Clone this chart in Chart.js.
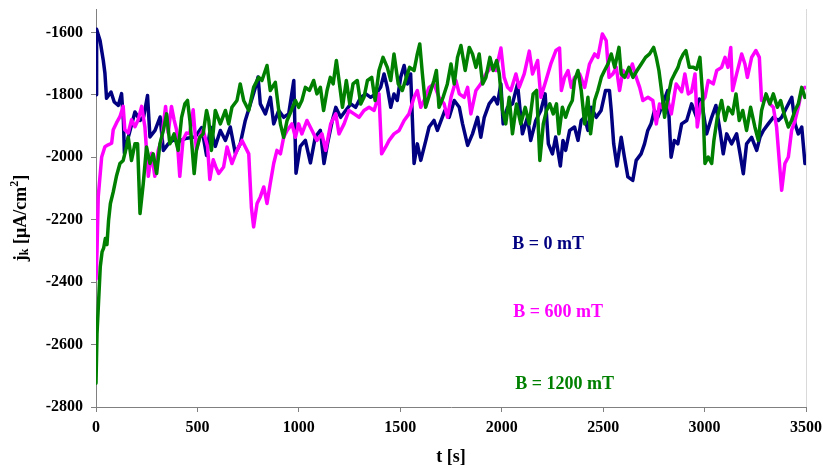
<!DOCTYPE html>
<html lang="en">
<head>
    <meta charset="UTF-8">
    <title>j_k vs t</title>
    <script src="https://cdn.jsdelivr.net/npm/chart.js"></script>
    <style>
        body { margin: 0; background: #fff; }
        canvas { display: block; }
    </style>
</head>
<body>
    <canvas id="chart" width="823" height="468"></canvas>

    <script>
        // axis ticks
        const xTicks = [0, 500, 1000, 1500, 2000, 2500, 3000, 3500];
        const yTicks = [-2800, -2600, -2400, -2200, -2000, -1800, -1600];

        // series names and colours
        const seriesNames = ['B = 0 mT', 'B = 600 mT', 'B = 1200 mT'];
        const seriesColors = ['#000080', '#ff00ff', '#008000'];

        // [t (s), j_k (µA/cm2)]
        const b0 = [[0,-1800],[3,-1590],[10,-1605],[20,-1626],[36,-1690],[44,-1731],[52,-1811],[74,-1791],[90,-1823],[110,-1834],[126,-1796],[135,-1882],[140,-1987],[159,-1936],[192,-1855],[217,-1882],[235,-1870],[254,-1802],[266,-1935],[291,-1914],[316,-1871],[332,-1978],[356,-1957],[381,-1944],[405,-1950],[440,-1940],[488,-1935],[521,-1905],[545,-1994],[564,-1903],[588,-1965],[613,-1914],[638,-1946],[662,-1903],[687,-1988],[711,-1957],[736,-1882],[761,-1829],[786,-1776],[799,-1743],[810,-1829],[835,-1861],[860,-1808],[876,-1893],[901,-1850],[925,-1872],[950,-1861],[975,-1754],[986,-2051],[1007,-1965],[1032,-1946],[1057,-2018],[1081,-1935],[1106,-1914],[1124,-2020],[1141,-1957],[1165,-1882],[1182,-1840],[1206,-1872],[1231,-1850],[1256,-1829],[1280,-1840],[1305,-1808],[1330,-1797],[1354,-1808],[1380,-1797],[1403,-1776],[1420,-1733],[1436,-1776],[1453,-1840],[1469,-1797],[1485,-1818],[1502,-1744],[1519,-1706],[1535,-1765],[1551,-1733],[1568,-2020],[1584,-1957],[1601,-2010],[1626,-1946],[1642,-1903],[1666,-1882],[1683,-1914],[1707,-1872],[1720,-1850],[1741,-1872],[1766,-1818],[1791,-1840],[1807,-1893],[1832,-1962],[1856,-1925],[1881,-1872],[1897,-1936],[1914,-1872],[1938,-1829],[1963,-1808],[1979,-1829],[1996,-1765],[2007,-1893],[2028,-1840],[2053,-1829],[2078,-1765],[2102,-1925],[2127,-1872],[2143,-1946],[2168,-1882],[2193,-1850],[2214,-1797],[2230,-1957],[2250,-1989],[2266,-1935],[2289,-2028],[2302,-1946],[2315,-1978],[2335,-1914],[2359,-1903],[2376,-1946],[2392,-1882],[2408,-1872],[2425,-1914],[2441,-1840],[2466,-1872],[2490,-1850],[2512,-1786],[2531,-1786],[2540,-1850],[2552,-1957],[2568,-2028],[2589,-1936],[2605,-2000],[2622,-2063],[2646,-2074],[2663,-2010],[2687,-1989],[2704,-1957],[2720,-1914],[2736,-1893],[2753,-1850],[2769,-1872],[2794,-1829],[2818,-1786],[2835,-2000],[2851,-1946],[2868,-1957],[2887,-1893],[2912,-1882],[2936,-1829],[2961,-1872],[2974,-1813],[2990,-1840],[3010,-1925],[3035,-1872],[3056,-1834],[3076,-1914],[3092,-1989],[3109,-1925],[3133,-1957],[3158,-1925],[3175,-1989],[3191,-2053],[3207,-1957],[3232,-1936],[3257,-1978],[3273,-1936],[3290,-1914],[3314,-1893],[3339,-1872],[3364,-1882],[3380,-1872],[3405,-1840],[3430,-1808],[3446,-1893],[3462,-1925],[3479,-1903],[3495,-2020]];

        const b600 = [[0,-2390],[5,-2300],[11,-2127],[28,-1999],[44,-1966],[60,-1960],[77,-1955],[85,-1912],[101,-1890],[118,-1870],[134,-1837],[142,-1912],[159,-1922],[175,-1880],[192,-1902],[208,-1880],[225,-1837],[241,-1902],[258,-2061],[274,-1987],[290,-2061],[307,-1977],[323,-1944],[343,-1837],[356,-1922],[372,-1837],[385,-1880],[397,-1912],[413,-2061],[429,-1944],[446,-1922],[462,-1925],[479,-1848],[495,-1977],[512,-1930],[528,-1912],[550,-1966],[561,-2071],[578,-2008],[590,-2030],[605,-2052],[629,-2031],[646,-1967],[670,-2020],[695,-1978],[720,-1946],[736,-1967],[753,-1989],[766,-2160],[777,-2223],[794,-2148],[810,-2127],[827,-2095],[843,-2148],[859,-2084],[876,-2020],[892,-1978],[909,-1989],[925,-1936],[942,-1914],[966,-1893],[983,-1936],[999,-1893],[1015,-1925],[1040,-1882],[1065,-1914],[1089,-1946],[1114,-1925],[1132,-1978],[1157,-1893],[1182,-1861],[1198,-1925],[1223,-1893],[1247,-1850],[1272,-1861],[1297,-1872],[1321,-1850],[1346,-1840],[1371,-1850],[1395,-1797],[1408,-1989],[1428,-1967],[1445,-1946],[1469,-1925],[1494,-1914],[1519,-1882],[1543,-1861],[1568,-1808],[1584,-1786],[1601,-1840],[1617,-1818],[1642,-1776],[1666,-1765],[1691,-1808],[1716,-1829],[1733,-1872],[1750,-1808],[1774,-1754],[1791,-1797],[1815,-1808],[1832,-1776],[1848,-1861],[1873,-1786],[1897,-1765],[1922,-1733],[1947,-1712],[1971,-1722],[1996,-1650],[2012,-1744],[2029,-1776],[2045,-1786],[2070,-1733],[2086,-1776],[2111,-1733],[2136,-1660],[2152,-1733],[2177,-1690],[2193,-1808],[2218,-1754],[2242,-1701],[2267,-1658],[2285,-1650],[2294,-1786],[2310,-1744],[2327,-1722],[2343,-1776],[2359,-1744],[2384,-1733],[2409,-1776],[2433,-1701],[2458,-1669],[2474,-1680],[2496,-1605],[2515,-1626],[2529,-1744],[2548,-1733],[2565,-1712],[2581,-1786],[2598,-1722],[2622,-1744],[2644,-1701],[2663,-1744],[2680,-1776],[2696,-1818],[2721,-1808],[2745,-1818],[2762,-1893],[2778,-1829],[2803,-1850],[2819,-1818],[2836,-1861],[2860,-1765],[2887,-1790],[2903,-1733],[2920,-1797],[2936,-1790],[2953,-1733],[2964,-1903],[2981,-1829],[3002,-1808],[3018,-1754],[3043,-1765],[3060,-1722],[3084,-1712],[3101,-1680],[3115,-1712],[3129,-1648],[3138,-1786],[3158,-1733],[3183,-1669],[3199,-1701],[3211,-1744],[3232,-1680],[3253,-1658],[3270,-1680],[3281,-1818],[3306,-1808],[3322,-1829],[3339,-1840],[3355,-1903],[3372,-2042],[3380,-2106],[3396,-2020],[3413,-1999],[3429,-1914],[3446,-1882],[3462,-1840],[3479,-1786],[3495,-1776]];

        const b1200 = [[0,-2724],[5,-2564],[13,-2458],[21,-2351],[30,-2303],[38,-2290],[46,-2260],[54,-2280],[62,-2202],[71,-2148],[85,-2111],[101,-2060],[118,-2020],[134,-2010],[151,-1965],[159,-1936],[175,-2010],[192,-1957],[205,-1957],[217,-2180],[233,-2084],[249,-1967],[266,-2020],[282,-1989],[299,-2052],[315,-1957],[332,-1914],[348,-1861],[364,-1957],[385,-1925],[405,-1978],[422,-1872],[438,-1829],[451,-1818],[463,-1882],[484,-2052],[495,-1978],[512,-1936],[528,-1925],[545,-1850],[556,-1882],[569,-1978],[588,-1850],[613,-1893],[638,-1850],[654,-1893],[670,-1840],[695,-1818],[711,-1765],[728,-1818],[753,-1850],[777,-1776],[802,-1744],[818,-1754],[843,-1706],[859,-1786],[884,-1760],[909,-1893],[925,-1936],[942,-1882],[963,-1850],[983,-1818],[999,-1840],[1015,-1818],[1032,-1776],[1052,-1786],[1073,-1754],[1089,-1797],[1106,-1776],[1122,-1850],[1139,-1786],[1155,-1744],[1169,-1765],[1185,-1690],[1198,-1754],[1215,-1840],[1234,-1754],[1251,-1829],[1267,-1765],[1288,-1754],[1305,-1829],[1321,-1808],[1338,-1754],[1359,-1744],[1376,-1818],[1395,-1722],[1415,-1680],[1436,-1712],[1453,-1754],[1469,-1669],[1490,-1765],[1510,-1786],[1530,-1744],[1546,-1712],[1568,-1722],[1584,-1669],[1596,-1637],[1609,-1733],[1625,-1840],[1645,-1797],[1666,-1754],[1678,-1722],[1691,-1840],[1711,-1808],[1732,-1765],[1750,-1701],[1766,-1765],[1782,-1680],[1799,-1642],[1820,-1722],[1840,-1648],[1856,-1669],[1873,-1712],[1889,-1669],[1906,-1765],[1922,-1744],[1942,-1680],[1958,-1722],[1975,-1690],[1988,-1733],[2004,-1850],[2020,-1893],[2037,-1808],[2053,-1925],[2073,-1829],[2094,-1893],[2116,-1840],[2136,-1893],[2155,-1797],[2172,-1786],[2188,-2010],[2205,-1893],[2221,-1850],[2237,-1829],[2254,-1861],[2270,-1829],[2282,-1925],[2299,-1840],[2315,-1872],[2331,-1840],[2348,-1818],[2359,-1754],[2376,-1722],[2392,-1786],[2409,-1893],[2425,-1808],[2438,-1925],[2458,-1818],[2474,-1786],[2491,-1744],[2507,-1722],[2524,-1701],[2540,-1669],[2557,-1712],[2578,-1648],[2589,-1733],[2606,-1744],[2627,-1712],[2647,-1744],[2667,-1722],[2688,-1701],[2709,-1680],[2729,-1669],[2749,-1648],[2762,-1680],[2775,-1722],[2792,-1808],[2803,-1872],[2819,-1808],[2836,-1754],[2852,-1733],[2869,-1712],[2879,-1690],[2895,-1669],[2908,-1658],[2925,-1712],[2945,-1712],[2961,-1718],[2977,-1680],[2990,-1797],[3002,-2020],[3018,-1999],[3035,-2020],[3046,-1946],[3063,-1872],[3084,-1818],[3101,-1882],[3117,-1840],[3138,-1861],[3155,-1797],[3171,-1882],[3188,-1850],[3207,-1914],[3227,-1840],[3248,-1903],[3265,-1946],[3281,-1850],[3303,-1797],[3322,-1829],[3339,-1797],[3359,-1840],[3375,-1818],[3392,-1861],[3413,-1903],[3429,-1882],[3446,-1850],[3462,-1829],[3479,-1776],[3495,-1808]];

        // where the series names sit, in data units [t, j]
        const labelAnchors = [[2052, -2278], [2057, -2498], [2067, -2728]];

        const FONT = '"Liberation Serif", "Times New Roman", serif';
        const AXIS_GREY = '#808080';

        function toXY(arr) {
            return arr.map(p => ({ x: p[0], y: p[1] }));
        }

        // titles, series names and right frame line
        const decorPlugin = {
            id: 'decor',
            afterDraw(chart) {
                const ctx = chart.ctx;
                const area = chart.chartArea;
                const xs = chart.scales.x;
                const ys = chart.scales.y;

                // light frame line on the right
                ctx.save();
                ctx.strokeStyle = '#d9d9d9';
                ctx.lineWidth = 1;
                ctx.beginPath();
                ctx.moveTo(Math.round(area.right) + 0.5, area.top);
                ctx.lineTo(Math.round(area.right) + 0.5, area.bottom);
                ctx.stroke();
                ctx.restore();

                // series labels
                ctx.save();
                ctx.font = 'bold 18px ' + FONT;
                ctx.textAlign = 'left';
                ctx.textBaseline = 'middle';
                labelAnchors.forEach((a, i) => {
                    ctx.fillStyle = seriesColors[i];
                    ctx.fillText(seriesNames[i], xs.getPixelForValue(a[0]), ys.getPixelForValue(a[1]));
                });
                ctx.restore();

                // x title
                ctx.save();
                ctx.font = 'bold 18px ' + FONT;
                ctx.fillStyle = '#000';
                ctx.textAlign = 'center';
                ctx.textBaseline = 'middle';
                ctx.fillText('t [s]', (area.left + area.right) / 2, 457);
                ctx.restore();

                // y title with subscript and superscript
                const parts = [
                    { t: 'j', size: 18, dy: 0 },
                    { t: 'k', size: 12, dy: 4 },
                    { t: ' [μA/cm', size: 18, dy: 0 },
                    { t: '2', size: 12, dy: -6 },
                    { t: ']', size: 18, dy: 0 }
                ];
                ctx.save();
                ctx.translate(21, 218);
                ctx.rotate(-Math.PI / 2);
                ctx.fillStyle = '#000';
                ctx.textBaseline = 'middle';
                ctx.textAlign = 'left';
                let total = 0;
                parts.forEach(p => {
                    ctx.font = 'bold ' + p.size + 'px ' + FONT;
                    p.w = ctx.measureText(p.t).width;
                    total += p.w;
                });
                let x = -total / 2;
                parts.forEach(p => {
                    ctx.font = 'bold ' + p.size + 'px ' + FONT;
                    ctx.fillText(p.t, x, p.dy);
                    x += p.w;
                });
                ctx.restore();
            }
        };

        const series = [b0, b600, b1200];

        new Chart(document.getElementById('chart').getContext('2d'), {
            type: 'line',
            data: {
                datasets: series.map((s, i) => ({
                    label: seriesNames[i],
                    data: toXY(s),
                    borderColor: seriesColors[i],
                    backgroundColor: seriesColors[i],
                    borderWidth: 3.5,
                    borderJoinStyle: 'round',
                    borderCapStyle: 'round',
                    pointRadius: 0,
                    tension: 0,
                    fill: false,
                    order: 3 - i
                }))
            },
            options: {
                responsive: false,
                animation: false,
                layout: { padding: { left: 0, right: 17, top: 9, bottom: 0 } },
                plugins: {
                    legend: { display: false },
                    tooltip: { enabled: false }
                },
                scales: {
                    x: {
                        type: 'linear',
                        min: 0,
                        max: 3500,
                        afterBuildTicks: s => { s.ticks = xTicks.map(v => ({ value: v })); },
                        afterFit: s => { s.height = 61; s.paddingLeft = 0; s.paddingRight = 0; },
                        grid: { drawOnChartArea: false, drawTicks: true, tickLength: 5, color: AXIS_GREY },
                        border: { display: true, color: AXIS_GREY, width: 1 },
                        ticks: {
                            color: '#000', padding: 6, maxRotation: 0,
                            font: { family: FONT, size: 16, weight: 'bold' },
                            callback: v => String(v)
                        }
                    },
                    y: {
                        type: 'linear',
                        min: -2800,
                        max: -1525,
                        afterBuildTicks: s => { s.ticks = yTicks.map(v => ({ value: v })); },
                        afterFit: s => { s.width = 96; s.paddingTop = 0; s.paddingBottom = 0; },
                        grid: { drawOnChartArea: false, drawTicks: true, tickLength: 5, color: AXIS_GREY },
                        border: { display: true, color: AXIS_GREY, width: 1 },
                        ticks: {
                            color: '#000', padding: 8,
                            font: { family: FONT, size: 16, weight: 'bold' },
                            callback: v => String(v)
                        }
                    }
                }
            },
            plugins: [decorPlugin]
        });
    </script>
</body>
</html>
